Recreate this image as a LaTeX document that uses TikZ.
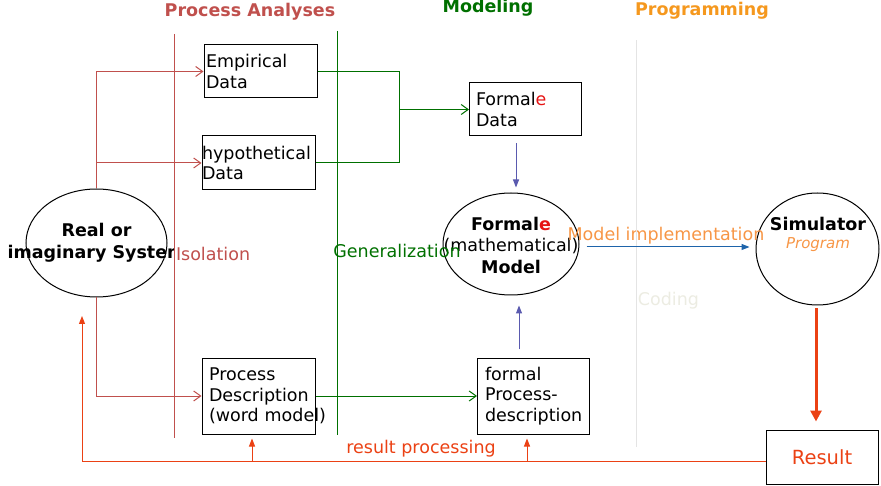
\documentclass[tikz,border=0pt]{standalone}
\usepackage{fontspec}
\setmainfont{DejaVu Sans}
\usetikzlibrary{shapes.geometric,arrows.meta}

\definecolor{analysis}{RGB}{192,80,77}
\definecolor{modeling}{RGB}{0,112,0}
\definecolor{programming}{RGB}{245,152,30}
\definecolor{implement}{RGB}{247,150,70}
\definecolor{formalblue}{RGB}{90,90,175}
\definecolor{codeblue}{RGB}{30,100,170}
\definecolor{result}{RGB}{235,65,20}
\definecolor{divider}{RGB}{228,228,228}
\definecolor{coding}{RGB}{236,236,226}
\definecolor{formalred}{RGB}{230,20,20}

\begin{document}
\begin{tikzpicture}[x=1pt, y=-1pt, line width=1pt,
		every node/.style={font=\fontsize{17.5}{20.5}\selectfont},
		title/.style={font=\fontsize{17.5}{20.5}\selectfont\bfseries},
		box/.style={draw, align=left, inner xsep=2pt, text width=109pt, minimum height=53pt},
		oval/.style={draw, ellipse, inner sep=0pt},
		aline/.style={draw=analysis},
		mline/.style={draw=modeling},
		aarrow/.style={aline, -{Straight Barb[length=7pt,width=10pt]}},
		marrow/.style={mline, -{Straight Barb[length=7pt,width=10pt]}},
		farrow/.style={draw=formalblue, -{Triangle[length=8pt,width=6pt]}},
		carrow/.style={draw=codeblue, -{Triangle[length=8pt,width=6pt]}},
		rarrow/.style={draw=result, -{Triangle[length=8pt,width=6pt]}},
		rthick/.style={draw=result, line width=3pt, -{Triangle[length=11pt,width=11pt]}}]
			\useasboundingbox (0,0) rectangle (881,486);
			
			% titles
			\node[title, text=analysis] (pa) at (250,12) {Process Analyses};
			\node[title, text=modeling] (mo) at (488,8) {Modeling};
			\node[title, text=programming] (pr) at (702,11) {Programming};
			
			% boxes
			\node[box] (emp) at (260.5,71.5) {Empirical\\Data};
			\node[box, inner xsep=0pt, text width=113pt, minimum height=54pt] (hyp) at (258.5,163) {hypothetical\\Data};
			\node[box, inner xsep=6.5pt, text width=99pt] (fdata) at (525.5,109.5) {Formal\textcolor{formalred}{e}\\Data};
			\node[box, inner xsep=7pt, text width=99pt, minimum height=76pt] (proc) at (258.5,396) {Process\\Description\\\mbox{(word model)}};
			\node[box, inner xsep=7.5pt, text width=97pt, minimum height=76pt] (fproc) at (533.5,396) {formal\\Process-\\description};
			\node[box, align=center, text=result, font=\fontsize{19.5}{22}\selectfont, inner xsep=0pt, text width=112pt, minimum height=54pt] (res) at (822,457) {Result};
			
			% ellipses
			\node[oval, minimum width=141pt, minimum height=108pt] (sys) at (96.5,243) {};
			\node[align=center, font=\fontsize{17.5}{22}\selectfont\bfseries] (systxt) at (96.5,243) {Real or\\imaginary System};
			\node[oval, minimum width=136pt, minimum height=102pt] (fmodel) at (511,244) {};
			\node[align=center, font=\fontsize{17.5}{21.5}\selectfont] (fmodeltxt) at (511,245) {\textbf{Formal\textcolor{formalred}{e}}\\(mathematical)\\\textbf{Model}};
			\node[oval, minimum width=123pt, minimum height=112pt] (sim) at (817.5,249) {};
			\node[align=center, font=\fontsize{17.5}{18}\selectfont] (simtxt) at (818,234) {\textbf{Simulator}\\{\fontsize{15}{18}\selectfont\itshape\color{implement}Program}};
			
			% labels
			\node[anchor=west, fill=white, inner sep=1pt, text=analysis] (iso) at (174.5,254) {Isolation};
			\node[text=modeling] (gen) at (397,251) {Generalization};
			\node[text=implement] (impl) at (666,236) {Model implementation};
			\node[text=coding] (cod) at (668.5,301) {Coding};
			\node[text=result] (rp) at (421,449) {result processing};
			
			% phase lines
			\draw[aline] (174.5,34) -- (174.5,438);
			\draw[mline] (337.5,31) -- (337.5,435);
			\draw[draw=divider] (636,40) -- (636,447);
			
			% isolation
			\draw[aarrow] (sys.north) |- (emp.west);
			\draw[aarrow] (sys.north) |- (hyp.west);
			\draw[aarrow] (sys.south) |- (proc.west);
			
			% generalization
			\coordinate (gjoin) at (399,109.5);
			\draw[mline] (emp.east) -| (gjoin);
			\draw[mline] (hyp.east) -| (gjoin);
			\draw[marrow] (gjoin) -- (fdata.west);
			\draw[marrow] (proc.east) -- (fproc.west);
			
			% formal model
			\coordinate (fdown) at ([xshift=-9.5pt]fdata.south);
			\draw[farrow, shorten <=7pt, shorten >=5pt] (fdown) -- (fdown |- fmodel.north);
			\coordinate (fup) at ([xshift=-14.5pt]fproc.north);
			\draw[farrow, shorten <=8pt, shorten >=10pt] (fup) -- (fup |- fmodel.south);
			
			% implementation
			\coordinate (fme) at ([yshift=-3pt]fmodel.east);
			\draw[carrow, shorten <=7pt, shorten >=6pt] (fme) -- (fme -| sim.west);
			\coordinate (sdown) at ([xshift=-1.5pt]sim.south);
			\draw[rthick, shorten <=3pt, shorten >=8pt] (sdown) -- (sdown |- res.north);
			
			% result processing
			\coordinate (fb) at ([yshift=-4pt]res.west);
			\coordinate (fbtip) at (82,316);
			\draw[rarrow] (fb) -| (fbtip);
			\coordinate (pup) at ([xshift=-6.5pt]proc.south);
			\draw[rarrow, shorten >=4pt] (pup |- fb) -- (pup);
			\coordinate (fpup) at ([xshift=-6.5pt]fproc.south);
			\draw[rarrow, shorten >=4pt] (fpup |- fb) -- (fpup);
		\end{tikzpicture}
\end{document}
